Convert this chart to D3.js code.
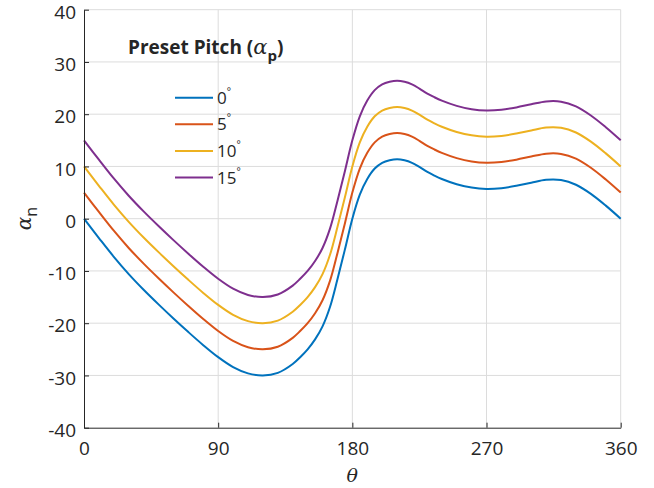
<!DOCTYPE html>
<html>
<head>
<meta charset="utf-8">
<script src="https://cdn.jsdelivr.net/npm/d3@7"></script>
<style>
  body { margin: 0; background: #fff; }
  text { font-family: "Open Sans", sans-serif; fill: #262626; }
</style>
</head>
<body>
<svg id="chart" width="654" height="488"></svg>
<script>
// azimuth angle (deg)
const theta = [0, 10, 20, 30, 40, 50, 60, 70, 80, 90, 100, 110, 120, 130, 140,
  145, 150, 155, 160, 165, 170, 175, 180, 185, 190, 195, 200, 205, 210, 215, 220, 225, 230, 235, 240,
  250, 260, 270, 280, 290, 300, 310, 320, 330, 340, 350, 360];

const pitch0 = [0, -3.7, -7.3, -10.6, -13.6, -16.4, -19.1, -21.7, -24.2, -26.5, -28.4, -29.6, -30.0, -29.5, -27.8,
  -26.5, -25.0, -23.1, -20.6, -16.9, -11.6, -5.9, 0, 4.6, 7.6, 9.6, 10.7, 11.2, 11.4, 11.2, 10.7, 9.9, 9.0, 8.25, 7.6,
  6.6, 5.95, 5.7, 5.85, 6.3, 6.9, 7.45, 7.4, 6.5, 4.75, 2.5, 0];
const pitch5 = [5, 1.3, -2.3, -5.6, -8.6, -11.4, -14.1, -16.7, -19.2, -21.5, -23.4, -24.6, -25.0, -24.5, -22.8,
  -21.5, -20.0, -18.1, -15.6, -11.9, -6.6, -0.9, 5.0, 9.6, 12.6, 14.6, 15.7, 16.2, 16.4, 16.2, 15.7, 14.9, 14.0, 13.25, 12.6,
  11.6, 10.95, 10.7, 10.85, 11.3, 11.9, 12.45, 12.4, 11.5, 9.75, 7.5, 5.0];
const pitch10 = [10, 6.3, 2.7, -0.6, -3.6, -6.4, -9.1, -11.7, -14.2, -16.5, -18.4, -19.6, -20.0, -19.5, -17.8,
  -16.5, -15.0, -13.1, -10.6, -6.9, -1.6, 4.1, 10.0, 14.6, 17.6, 19.6, 20.7, 21.2, 21.4, 21.2, 20.7, 19.9, 19.0, 18.25, 17.6,
  16.6, 15.95, 15.7, 15.85, 16.3, 16.9, 17.45, 17.4, 16.5, 14.75, 12.5, 10.0];
const pitch15 = [15, 11.3, 7.7, 4.4, 1.4, -1.4, -4.1, -6.7, -9.2, -11.5, -13.4, -14.6, -15.0, -14.5, -12.8,
  -11.5, -10.0, -8.1, -5.6, -1.9, 3.4, 9.1, 15.0, 19.6, 22.6, 24.6, 25.7, 26.2, 26.4, 26.2, 25.7, 24.9, 24.0, 23.25, 22.6,
  21.6, 20.95, 20.7, 20.85, 21.3, 21.9, 22.45, 22.4, 21.5, 19.75, 17.5, 15.0];

const seriesNames = ['0', '5', '10', '15'];
const xTicks = [0, 90, 180, 270, 360];
const yTicks = [-40, -30, -20, -10, 0, 10, 20, 30, 40];

const colors = ['#0072BD', '#D95319', '#EDB120', '#7E2F8E'];
const series = [pitch0, pitch5, pitch10, pitch15];

const svg = d3.select('#chart');
const margin = { top: 9.7, right: 33.3, bottom: 60.3, left: 84 };
const width = +svg.attr('width');
const height = +svg.attr('height');

const x = d3.scaleLinear()
  .domain([0, 360])
  .range([margin.left, width - margin.right]);

const y = d3.scaleLinear()
  .domain([-40, 40])
  .range([height - margin.bottom, margin.top]);

// grid
svg.append('g')
  .selectAll('line')
  .data(xTicks.slice(1))
  .join('line')
  .attr('x1', d => x(d)).attr('x2', d => x(d))
  .attr('y1', y(-40)).attr('y2', y(40))
  .attr('stroke', '#dcdcdc');

svg.append('g')
  .selectAll('line')
  .data(yTicks.slice(1))
  .join('line')
  .attr('x1', x(0)).attr('x2', x(360))
  .attr('y1', d => y(d)).attr('y2', d => y(d))
  .attr('stroke', '#dcdcdc');

// curves
const line = d3.line()
  .x((d, i) => x(theta[i]))
  .y(d => y(d))
  .curve(d3.curveCatmullRom.alpha(0.5));

svg.append('g')
  .selectAll('path')
  .data(series)
  .join('path')
  .attr('fill', 'none')
  .attr('stroke', (d, i) => colors[i])
  .attr('stroke-width', 2)
  .attr('d', line);

// axes
const xAxis = svg.append('g')
  .attr('transform', `translate(0,${y(-40)})`)
  .call(d3.axisBottom(x).tickValues(xTicks).tickFormat(d => String(d))
    .tickSizeInner(-5).tickSizeOuter(0).tickPadding(14));

const yAxis = svg.append('g')
  .attr('transform', `translate(${x(0)},0)`)
  .call(d3.axisLeft(y).tickValues(yTicks).tickFormat(d => String(d))
    .tickSizeInner(-5).tickSizeOuter(0).tickPadding(8));

[xAxis, yAxis].forEach(g => {
  g.select('.domain').attr('stroke', '#262626');
  g.selectAll('.tick line').attr('stroke', '#262626');
  g.selectAll('.tick text')
    .attr('fill', '#262626')
    .style('font-family', '"Open Sans", sans-serif')
    .style('font-size', '19px');
});
yAxis.selectAll('.tick text').attr('dy', '0.45em');

// axis labels
svg.append('text')
  .attr('x', x(180))
  .attr('y', 482)
  .attr('text-anchor', 'middle')
  .style('font-family', '"DejaVu Serif", serif')
  .style('font-style', 'italic')
  .style('font-size', '19px')
  .text('θ');

const yl = svg.append('text')
  .attr('transform', `translate(31,${y(0)}) rotate(-90)`)
  .attr('text-anchor', 'middle')
  .style('font-size', '20px');
yl.append('tspan').style('font-family', '"DejaVu Serif", serif').style('font-style', 'italic').text('α');
yl.append('tspan').attr('dy', 6).style('font-size', '16px').text('n');

// legend
const title = svg.append('text')
  .attr('x', 128)
  .attr('y', 54)
  .style('font-weight', 'bold')
  .style('font-size', '19px');
title.append('tspan').text('Preset Pitch (');
title.append('tspan').style('font-family', '"DejaVu Serif", serif').style('font-style', 'italic').style('font-weight', 'normal').style('font-size', '21px').text('α');
title.append('tspan').attr('dy', 7).style('font-size', '15px').text('p');
title.append('tspan').attr('dy', -7).text(')');

const legend = svg.append('g')
  .selectAll('g')
  .data(seriesNames)
  .join('g')
  .attr('transform', (d, i) => `translate(175,${97.7 + i * 26.6})`);

legend.append('line')
  .attr('x1', 0).attr('x2', 38)
  .attr('stroke', (d, i) => colors[i])
  .attr('stroke-width', 2);

const lt = legend.append('text')
  .attr('x', 42)
  .attr('y', 6)
  .style('font-size', '17px');
lt.append('tspan').text(d => d);
lt.append('tspan').attr('dy', -9).style('font-size', '10px').text('°');
</script>
</body>
</html>
